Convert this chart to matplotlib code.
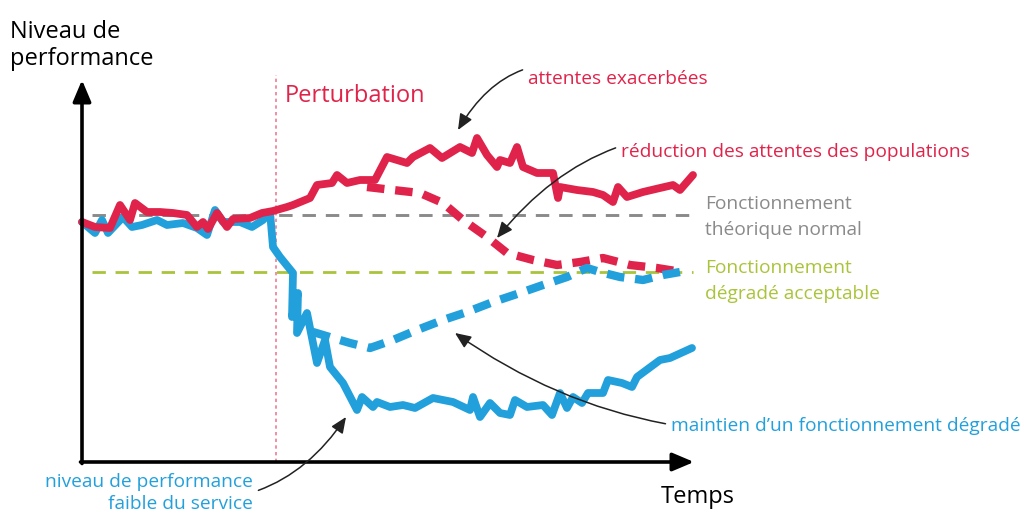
import matplotlib
matplotlib.use('Agg')
import matplotlib.pyplot as plt

plt.rcParams['font.family'] = ['Open Sans', 'DejaVu Sans']

ROUGE = '#e0234a'
BLEU = '#22a0dc'
GRIS = '#8a8a8a'
VERT = '#a9c43a'
ROSE = '#ec7d95'

t_attentes = [0, 13, 28, 38, 48, 53, 65, 78, 91, 105, 115, 121, 126, 135, 145, 151, 168, 180, 191,
              205, 211, 228, 235, 250, 255, 265, 278, 293, 305, 325, 331, 348, 360, 378, 390, 395,
              405, 415, 418, 428, 435, 441, 455, 471, 476, 478, 495, 511, 521, 531, 536, 545, 561,
              578, 591, 598, 611]
p_attentes = [240, 235, 234, 257, 242, 259, 250, 250, 249, 247, 235, 240, 233, 249, 235, 243, 244,
              249, 251, 255, 257, 264, 277, 279, 287, 279, 282, 282, 305, 299, 305, 314, 304, 315,
              309, 324, 307, 295, 302, 299, 315, 295, 289, 289, 264, 275, 272, 270, 267, 260, 275,
              265, 270, 274, 277, 272, 287]

t_reduction = [285, 311, 338, 361, 381, 405, 425, 451, 475, 498, 521, 548, 575, 600]
p_reduction = [275, 272, 269, 259, 242, 225, 209, 202, 197, 200, 204, 197, 194, 190]

t_service = [0, 13, 20, 26, 41, 50, 60, 75, 85, 101, 115, 125, 133, 141, 158, 170, 181, 188, 191,
             198, 211, 210, 216, 215, 225, 235, 243, 248, 261, 275, 280, 291, 295, 308, 321, 333,
             351, 371, 388, 391, 398, 408, 418, 428, 433, 445, 461, 470, 478, 485, 491, 500, 506,
             521, 526, 540, 550, 555, 578, 588, 610]
p_service = [240, 229, 242, 229, 245, 235, 237, 242, 237, 239, 234, 227, 252, 240, 240, 235, 242,
             250, 215, 205, 189, 145, 169, 129, 149, 99, 122, 95, 79, 52, 65, 55, 60, 55, 57, 54,
             64, 60, 52, 65, 45, 59, 49, 47, 62, 55, 57, 47, 69, 54, 65, 59, 69, 69, 82, 79, 75,
             85, 102, 104, 114]

t_maintien = [231, 251, 268, 288, 311, 335, 361, 385, 411, 438, 461, 485, 505, 518, 538, 561, 581, 598]
p_maintien = [130, 124, 119, 114, 122, 132, 142, 150, 160, 169, 177, 185, 194, 190, 185, 182, 187, 190]

niveau_normal = 247
niveau_acceptable = 190
t_perturbation = 194

fig = plt.figure(figsize=(10.24, 5.14), dpi=100)
ax = fig.add_axes([0, 0, 1, 1])
ax.set_xlim(-82, 942)
ax.set_ylim(-52, 462)
ax.axis('off')

# seuils
ax.plot([10, 611], [niveau_normal, niveau_normal], color=GRIS, lw=2.1, dashes=(4.6, 3.4))
ax.plot([10, 611], [niveau_acceptable, niveau_acceptable], color=VERT, lw=2.0, dashes=(4.8, 3.5))
ax.plot([t_perturbation, t_perturbation], [0, 387], color=ROSE, lw=1.2, dashes=(2, 2))

# courbes
ax.plot(t_service, p_service, color=BLEU, lw=5.6, solid_joinstyle='round', solid_capstyle='round')
ax.plot(t_attentes, p_attentes, color=ROUGE, lw=5.6, solid_joinstyle='round', solid_capstyle='round')
ax.plot(t_reduction, p_reduction, color=ROUGE, lw=6.0, dashes=(2.1, 1.3))
ax.plot(t_maintien, p_maintien, color=BLEU, lw=6.0, dashes=(2.1, 1.3))

# axes en fleches
ax.annotate('', xy=(0, 382), xytext=(0, -1.5),
            arrowprops=dict(arrowstyle='-|>,head_length=1.3,head_width=0.55', lw=2.6,
                            color='black', shrinkA=0, shrinkB=0))
ax.annotate('', xy=(612, 0), xytext=(-1.5, 0),
            arrowprops=dict(arrowstyle='-|>,head_length=1.3,head_width=0.55', lw=2.6,
                            color='black', shrinkA=0, shrinkB=0))

ax.text(-72, 424, 'Niveau de', fontsize=17, ha='left', va='baseline')
ax.text(-72, 397, 'performance', fontsize=17, ha='left', va='baseline')
ax.text(579, -41, 'Temps', fontsize=17, ha='left', va='baseline')
ax.text(203, 366, 'Perturbation', fontsize=17, color=ROUGE, ha='left', va='center')

ax.text(623, 258, 'Fonctionnement', fontsize=13.8, color=GRIS, ha='left', va='center')
ax.text(623, 232, 'théorique normal', fontsize=13.8, color=GRIS, ha='left', va='center')
ax.text(623, 194, 'Fonctionnement', fontsize=13.8, color=VERT, ha='left', va='center')
ax.text(623, 168, 'dégradé acceptable', fontsize=13.8, color=VERT, ha='left', va='center')

fleche = dict(arrowstyle='-|>,head_length=0.7,head_width=0.3', lw=1.1, color='#222222',
              shrinkA=2, shrinkB=0)
ax.annotate('attentes exacerbées', xy=(376, 332), xytext=(446, 383), fontsize=13.8,
            color=ROUGE, ha='left', va='center',
            arrowprops=dict(fleche, connectionstyle='arc3,rad=0.45'))
ax.annotate('réduction des attentes des populations', xy=(415, 224), xytext=(539, 310),
            fontsize=13.8, color=ROUGE, ha='left', va='center',
            arrowprops=dict(fleche, connectionstyle='arc3,rad=0.35'))
ax.annotate('maintien d\u2019un fonctionnement dégradé', xy=(373, 129), xytext=(589, 36),
            fontsize=13.8, color=BLEU, ha='left', va='center',
            arrowprops=dict(fleche, connectionstyle='arc3,rad=-0.2'))
ax.annotate('niveau de performance\nfaible du service', xy=(264, 45), xytext=(171, -31),
            fontsize=13.8, color=BLEU, ha='right', va='center', multialignment='right',
            linespacing=1.3,
            arrowprops=dict(fleche, connectionstyle='arc3,rad=0.35'))

fig.savefig('out.png', dpi=100)
